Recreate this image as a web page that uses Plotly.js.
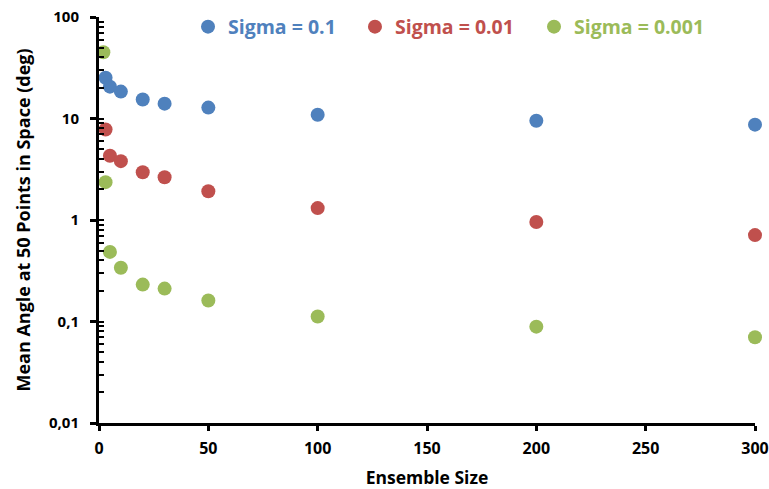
<!DOCTYPE html>
<html>
<head>
<meta charset="utf-8">
<script src="https://cdn.plot.ly/plotly-3.0.1.min.js"></script>
<style>body{margin:0;background:#fff}#chart{width:769px;height:489px}</style>
</head>
<body>
<div id="chart"></div>
<script>
const seriesNames = ["Sigma = 0.1", "Sigma = 0.01", "Sigma = 0.001"];
const seriesColors = ["#4F81BD", "#C0504D", "#9BBB59"];
const xSigma01 = [3, 5, 10, 20, 30, 50, 100, 200, 300];
const ySigma01 = [25.2, 20.6, 18.4, 15.4, 14.0, 12.8, 10.9, 9.5, 8.7];
const xSigma001 = [3, 5, 10, 20, 30, 50, 100, 200, 300];
const ySigma001 = [7.8, 4.3, 3.8, 2.95, 2.64, 1.92, 1.31, 0.955, 0.71];
const xSigma0001 = [2, 3, 5, 10, 20, 30, 50, 100, 200, 300];
const ySigma0001 = [45, 2.36, 0.485, 0.338, 0.231, 0.211, 0.161, 0.112, 0.089, 0.070];
const yTickVals = [0.01, 0.1, 1, 10, 100];
const yTickText = ["0,01", "0,1", "1", "10", "100"];
const yMinorVals = [0.02,0.03,0.04,0.05,0.06,0.07,0.08,0.09,
                    0.2,0.3,0.4,0.5,0.6,0.7,0.8,0.9,
                    2,3,4,5,6,7,8,9,
                    20,30,40,50,60,70,80,90];
const xTickVals = [0, 50, 100, 150, 200, 250, 300];

const font = "Open Sans, Noto Sans, sans-serif";
const xs = [xSigma01, xSigma001, xSigma0001];
const ys = [ySigma01, ySigma001, ySigma0001];
const legendIds = ["legend", "legend2", "legend3"];
const legendX = [0.1357, 0.3902, 0.6631];
const traces = xs.map((x, i) => ({
  type: "scatter", mode: "markers", name: seriesNames[i],
  x: x, y: ys[i], legend: legendIds[i],
  marker: {color: seriesColors[i], size: 14},
  cliponaxis: false
}));
// invisible helper trace to show the inside (minor + major) ticks of the overlay axis
traces.push({type: "scatter", mode: "markers", x: [0], y: [1], yaxis: "y2",
  marker: {opacity: 0}, showlegend: false, hoverinfo: "skip"});

const layout = {
  width: 769, height: 489,
  margin: {l: 99, r: 14, t: 17, b: 66, autoexpand: false},
  paper_bgcolor: "#fff", plot_bgcolor: "#fff",
  showlegend: true,
  xaxis: {
    range: [0, 300], tickvals: xTickVals, ticks: "outside", ticklen: 5, tickwidth: 3,
    tickcolor: "#000", showline: true, linewidth: 3, linecolor: "#000",
    showgrid: false, zeroline: false, automargin: false, ticklabelstandoff: 4,
    tickfont: {family: font, size: 16, weight: "bold", color: "#000"},
    title: {text: "Ensemble Size", font: {family: font, size: 17.5, weight: "bold", color: "#000"}, standoff: 16}
  },
  yaxis: {
    type: "log", range: [-2, 2], tickvals: yTickVals, ticktext: yTickText,
    ticks: "outside", ticklen: 6, tickwidth: 3, tickcolor: "#000",
    showline: true, linewidth: 3, linecolor: "#000", showgrid: false, zeroline: false,
    automargin: false, ticklabelstandoff: 8,
    tickfont: {family: font, size: 15, weight: "bold", color: "#000"},
    title: {text: "Mean Angle at 50 Points in Space (deg)", font: {family: font, size: 18, weight: "bold", color: "#000"}, standoff: 14}
  },
  yaxis2: {
    type: "log", range: [-2, 2], overlaying: "y", side: "left", anchor: "x",
    tickvals: yMinorVals.concat(yTickVals), showticklabels: false,
    ticks: "inside", ticklen: 5, tickwidth: 2, tickcolor: "#000",
    showline: false, showgrid: false, zeroline: false, automargin: false
  }
};
legendIds.forEach((id, i) => {
  layout[id] = {orientation: "h", x: legendX[i], y: 0.9754, xanchor: "left", yanchor: "middle",
    font: {family: font, size: 19.5, weight: "bold", color: seriesColors[i]},
    itemwidth: 30, bgcolor: "rgba(0,0,0,0)"};
});
Plotly.newPlot("chart", traces, layout, {displayModeBar: false});
</script>
</body>
</html>
